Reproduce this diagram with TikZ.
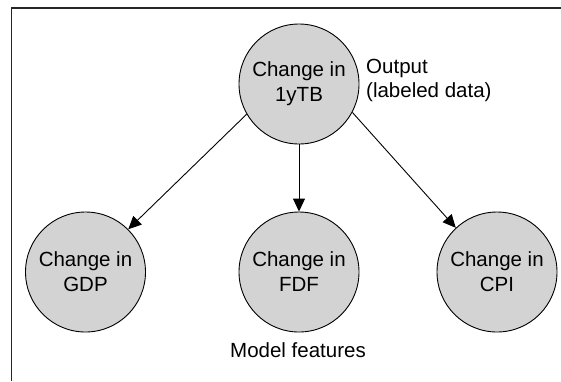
\documentclass[tikz,border=0pt]{standalone}
\usepackage{fontspec}
\setmainfont{Liberation Sans}
\usetikzlibrary{arrows.meta}
\definecolor{nodefill}{RGB}{211,211,211}
\begin{document}
\begin{tikzpicture}[x=1pt,y=-1pt,
  varnode/.style={circle,draw=black,line width=0.9pt,fill=nodefill,minimum size=120pt,inner sep=0pt,align=center,font=\fontsize{20.5}{25}\selectfont},
  labeltext/.style={inner sep=0pt,font=\fontsize{20.5}{24}\selectfont},
  arr/.style={line width=0.9pt,-{Triangle[length=13pt,width=12pt]}}]
\useasboundingbox (0,0) rectangle (561,381);
\draw[line width=1.3pt,black!85] (11.3,381) -- (11.3,8) -- (561,8);
\node[varnode] (top) at (299,84) {Change in\\1yTB};
\node[varnode] (gdp) at (85.5,272) {Change in\\GDP};
\node[varnode] (fdf) at (299,272) {Change in\\FDF};
\node[varnode] (cpi) at (497,272) {Change in\\CPI};
\node[labeltext,anchor=north west,align=left] (out) at (366,58.5) {Output\\(labeled data)};
\node[labeltext,anchor=base] (feat) at (298,357.7) {Model features};
\draw[arr] (top.210) -- (gdp.45);
\draw[arr] (top.south) -- (fdf.north);
\draw[arr] (top.-28) -- (cpi.133);
\end{tikzpicture}
\end{document}
